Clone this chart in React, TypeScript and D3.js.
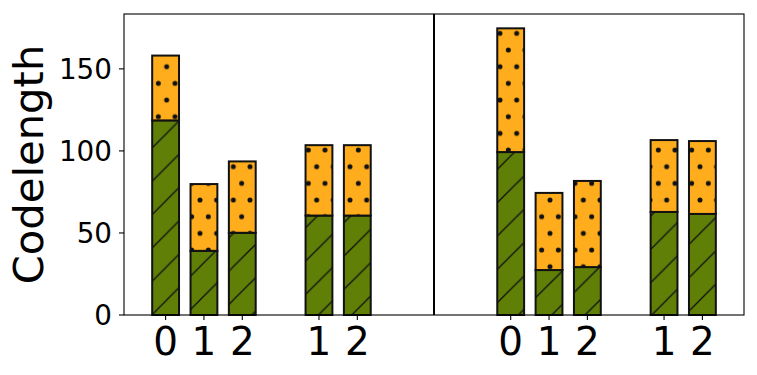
import React from 'react';
import * as d3 from 'd3';

// bar positions on the x axis and their tick labels
const positions = [0, 1, 2, 4, 5, 9, 10, 11, 13, 14];
const tickLabels = ['0', '1', '2', '1', '2', '0', '1', '2', '1', '2'];
// lower (green, hatched) part of each bar
const baseValues = [118.6, 39.1, 50.1, 60.6, 60.6, 99.3, 27.4, 29.2, 62.8, 61.6];
// upper (orange, dotted) part of each bar
const topValues = [39.5, 40.7, 43.5, 42.9, 42.9, 75.4, 47.0, 52.5, 43.8, 44.4];
const yTicks = [0, 50, 100, 150];
const dividerAt = 7;

const W = 757;
const H = 375;
const left = 124, right = 744, top = 14, bottom = 315;
const barWidth = 0.7;
const font = 'DejaVu Sans, sans-serif';

export default function App() {
  const totals = baseValues.map((b, i) => b + topValues[i]);
  const xMin = -barWidth / 2, xMax = d3.max(positions)! + barWidth / 2;
  const pad = (xMax - xMin) * 0.05;
  const x = d3.scaleLinear().domain([xMin - pad, xMax + pad]).range([left, right]);
  const y = d3.scaleLinear().domain([0, d3.max(totals)! * 1.05]).range([bottom, top]);
  const bw = x(barWidth) - x(0);
  const cell = 100 / 3;

  return (
    <svg width={W} height={H} style={{ position: 'absolute', left: 0, top: 0, background: '#fff' }}>
      <defs>
        <pattern id="diag" patternUnits="userSpaceOnUse" width={cell} height={cell}>
          <rect width={cell} height={cell} fill="#5f7f07" />
          <line x1={0} y1={cell} x2={cell} y2={0} stroke="#111" strokeWidth={1.3} />
          <line x1={-2} y1={2} x2={2} y2={-2} stroke="#111" strokeWidth={1.3} />
          <line x1={cell - 2} y1={cell + 2} x2={cell + 2} y2={cell - 2} stroke="#111" strokeWidth={1.3} />
        </pattern>
        <pattern id="dots" patternUnits="userSpaceOnUse" width={cell / 2} height={cell}>
          <rect width={cell / 2} height={cell} fill="#ffad1c" />
          {[[0, 0], [cell / 2, 0], [0, cell], [cell / 2, cell], [cell / 4, cell / 2]].map(([cx, cy], i) => (
            <circle key={i} cx={cx} cy={cy} r={2.5} fill="#111" />
          ))}
        </pattern>
      </defs>

      {positions.map((p, i) => (
        <g key={i}>
          <rect x={x(p) - bw / 2} y={y(baseValues[i])} width={bw} height={y(0) - y(baseValues[i])}
            fill="url(#diag)" stroke="#111" strokeWidth={2} />
          <rect x={x(p) - bw / 2} y={y(totals[i])} width={bw} height={y(baseValues[i]) - y(totals[i])}
            fill="url(#dots)" stroke="#111" strokeWidth={2} />
        </g>
      ))}

      <line x1={x(dividerAt)} x2={x(dividerAt)} y1={top} y2={bottom} stroke="#000" strokeWidth={2} />
      <rect x={left} y={top} width={right - left} height={bottom - top} fill="none" stroke="#000" strokeWidth={1.1} />

      {yTicks.map(t => (
        <g key={t}>
          <line x1={left - 5} x2={left} y1={y(t)} y2={y(t)} stroke="#000" strokeWidth={1.1} />
          <text x={left - 12} y={y(t)} dy="0.36em" textAnchor="end" fontFamily={font} fontSize={27.8}>{t}</text>
        </g>
      ))}

      {positions.map((p, i) => (
        <g key={i}>
          <line x1={x(p)} x2={x(p)} y1={bottom} y2={bottom + 5} stroke="#000" strokeWidth={1.1} />
          <text x={x(p)} y={355} textAnchor="middle" fontFamily={font} fontSize={38.9}>{tickLabels[i]}</text>
        </g>
      ))}

      <text transform={`translate(43,${(top + bottom) / 2}) rotate(-90)`} textAnchor="middle"
        fontFamily={font} fontSize={41.7}>Codelength</text>
    </svg>
  );
}
